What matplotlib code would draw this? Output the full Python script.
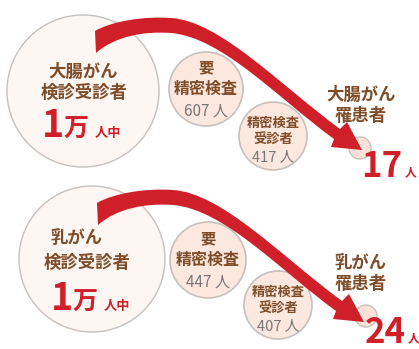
import matplotlib.pyplot as plt
from matplotlib.patches import Circle, PathPatch
from matplotlib.path import Path

plt.rcParams['font.family'] = ['Noto Sans CJK JP', 'DejaVu Sans']

# --- data ---
cancer_names = ['大腸がん', '乳がん']
screened_label = ['1', '万', '人中']          # 1万人中
need_exam = [607, 447]                        # 要精密検査
examined = [417, 407]                         # 精密検査受診者
patients = [17, 24]                           # 罹患者

# --- layout (pixel coords, y down) ---
big_xy = [(83, 91), (92, 259)]
big_r = [76, 73]
mid_xy = [(206, 89), (208, 260)]
mid_r = [37, 38]
small_xy = [(273, 136), (278, 305)]
small_r = [34, 34]
tiny_xy = [(360, 148), (366, 316)]
tiny_r = [11, 11]
arrow_shift = [(0, 0), (2, 172)]
name_xy = [(83, 72), (77, 238)]
sub_xy = [(84, 93), (87, 263)]
num_base = [137, 310]
right_xy = [(361, 95), (361, 263)]
pat_xy = [(382, 177), (385, 343)]

BROWN = '#7e4c28'
RED = '#cf1f29'
GRAY = '#777777'
EDGE = '#c6c0be'

fig = plt.figure(figsize=(4.19, 3.49), dpi=100)
ax = fig.add_axes([0, 0, 1, 1])
ax.set_xlim(0, 419)
ax.set_ylim(349, 0)
ax.axis('off')


def arrow_path(dx, dy):
    pts = [(95, 31), (112, 21), (145, 16), (171, 18),
           (220, 21), (280, 85), (340, 129),
           (347, 122), (362, 150), (331, 147),
           (334, 139),
           (280, 100), (222, 37), (171, 33),
           (145, 31), (115, 36), (96, 53),
           (95, 31)]
    codes = [Path.MOVETO, Path.CURVE4, Path.CURVE4, Path.CURVE4,
             Path.CURVE4, Path.CURVE4, Path.CURVE4,
             Path.LINETO, Path.LINETO, Path.LINETO,
             Path.LINETO,
             Path.CURVE4, Path.CURVE4, Path.CURVE4,
             Path.CURVE4, Path.CURVE4, Path.CURVE4,
             Path.CLOSEPOLY]
    return Path([(x + dx, y + dy) for x, y in pts], codes)


for i in range(2):
    # circles
    ax.add_patch(Circle(big_xy[i], big_r[i], fc='#fdf6f3', ec=EDGE, lw=1.0, zorder=1))
    ax.add_patch(Circle(mid_xy[i], mid_r[i], fc='#fde8e0', ec=EDGE, lw=1.2, zorder=1))
    ax.add_patch(Circle(small_xy[i], small_r[i], fc='#fde8e0', ec=EDGE, lw=1.2, zorder=1))
    ax.add_patch(Circle(tiny_xy[i], tiny_r[i], fc='#fbe2d8', ec=EDGE, lw=1.0, zorder=1))

    # arrow
    ax.add_patch(PathPatch(arrow_path(*arrow_shift[i]), fc=RED, ec='none', zorder=2))

    # big circle text
    ax.text(*name_xy[i], cancer_names[i], ha='center', va='center',
            fontsize=12.5, fontweight='bold', color=BROWN, zorder=3)
    ax.text(*sub_xy[i], '検診受診者', ha='center', va='center',
            fontsize=12.5, fontweight='bold', color=BROWN, zorder=3)
    bx = big_xy[i][0]
    ax.text(bx - 30, num_base[i], screened_label[0], ha='center', va='baseline',
            fontsize=27, color=RED, fontweight='bold', zorder=3)
    ax.text(bx - 7, num_base[i], screened_label[1], ha='center', va='baseline',
            fontsize=18, color=RED, fontweight='bold', zorder=3)
    ax.text(bx + 25, num_base[i], screened_label[2], ha='center', va='baseline',
            fontsize=9.5, color=RED, fontweight='bold', zorder=3)

    # medium circle text
    mx, my = mid_xy[i]
    ax.text(mx, my - 22, '要', ha='center', va='center',
            fontsize=11, fontweight='bold', color=BROWN, zorder=3)
    ax.text(mx, my, '精密検査', ha='center', va='center',
            fontsize=11.5, fontweight='bold', color=BROWN, zorder=3)
    ax.text(mx, my + 22, f'{need_exam[i]} 人', ha='center', va='center',
            fontsize=11, color=GRAY, zorder=3)

    # small circle text
    sx, sy = small_xy[i]
    ax.text(sx, sy - 13, '精密検査', ha='center', va='center',
            fontsize=9.5, fontweight='bold', color=BROWN, zorder=3)
    ax.text(sx, sy + 4, '受診者', ha='center', va='center',
            fontsize=9.5, fontweight='bold', color=BROWN, zorder=3)
    ax.text(sx, sy + 21, f'{examined[i]} 人', ha='center', va='center',
            fontsize=10.5, color=GRAY, zorder=3)

    # right label
    rx, ry = right_xy[i]
    ax.text(rx, ry, cancer_names[i], ha='center', va='center',
            fontsize=12.5, fontweight='bold', color=BROWN, zorder=3)
    ax.text(rx, ry + 21, '罹患者', ha='center', va='center',
            fontsize=12.5, fontweight='bold', color=BROWN, zorder=3)

    # patients
    px, py = pat_xy[i]
    ax.text(px, py, str(patients[i]), ha='center', va='baseline',
            fontsize=25, color=RED, fontweight='bold', zorder=4)
    ax.text(px + 29, py - 1, '人', ha='center', va='baseline',
            fontsize=8.5, color=RED, fontweight='bold', zorder=4)

fig.savefig('out.png', dpi=100, facecolor='white')
